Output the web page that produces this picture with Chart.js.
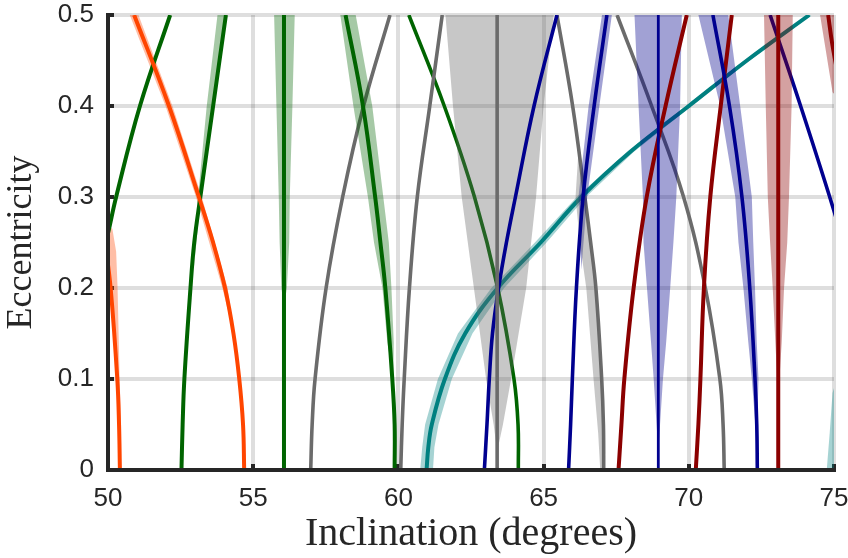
<!DOCTYPE html>
<html>
<head>
<meta charset="utf-8">
<script src="https://cdn.jsdelivr.net/npm/chart.js@4.4.1/dist/chart.umd.min.js"></script>
<style>
html, body { margin: 0; padding: 0; background: #fff; }
#wrap { width: 848px; height: 558px; position: relative; }
</style>
</head>
<body>
<div id="wrap"><canvas id="chart"></canvas></div>
<script>
const xTicks = [50, 55, 60, 65, 70, 75];
const yTicks = [0, 0.1, 0.2, 0.3, 0.4, 0.5];
const yTickLabels = ['0', '0.1', '0.2', '0.3', '0.4', '0.5'];

// curves as [inclination (deg), eccentricity]
const orangeA = [[50.41, 0], [50.38, 0.05], [50.32, 0.1], [50.09, 0.2], [49.9, 0.25]];
const orangeABand = [[50.41, 0], [50.47, 0], [50.45, 0.05], [50.4, 0.1], [50.33, 0.2], [50.28, 0.24], [50.15, 0.265], [49.9, 0.27], [49.9, 0.25], [50.09, 0.2], [50.32, 0.1], [50.38, 0.05]];
const orangeB = [[54.69, 0], [54.65, 0.05], [54.52, 0.1], [54.32, 0.15], [54.03, 0.2], [53.62, 0.25], [53.13, 0.3], [52.1, 0.4], [50.9, 0.5]];
const orangeBBand = [[54.32, 0.15], [53.94, 0.2], [53.03, 0.3], [51.98, 0.4], [50.75, 0.5], [51.05, 0.5], [52.22, 0.4], [53.23, 0.3], [54.12, 0.2]];

const greenA = [[52.53, 0], [52.57, 0.05], [52.63, 0.1], [52.84, 0.2], [52.97, 0.25], [53.18, 0.3], [53.62, 0.4], [54.06, 0.5]];
const greenABand = [[52.95, 0.22], [53.2, 0.3], [53.65, 0.4], [54.1, 0.5], [53.77, 0.5], [53.4, 0.4], [53.1, 0.3]];
const greenB = [[49.55, 0.2], [50, 0.26], [50.28, 0.3], [51.1, 0.4], [52.14, 0.5]];
const greenC = [[56.06, 0], [56.06, 0.5]];
const greenCBand = [[56.06, 0.18], [55.97, 0.2], [55.91, 0.25], [55.88, 0.3], [55.8, 0.4], [55.72, 0.5], [56.43, 0.5], [56.35, 0.4], [56.26, 0.3], [56.24, 0.25], [56.16, 0.2]];
const greenD = [[59.87, 0], [59.87, 0.05], [59.79, 0.1], [59.55, 0.2], [59.38, 0.25], [59.2, 0.3], [58.78, 0.4], [58.18, 0.5]];
const greenDBand = [[59.83, 0.1], [59.62, 0.14], [59.45, 0.2], [59.16, 0.25], [58.95, 0.3], [58.45, 0.4], [58.0, 0.5], [58.53, 0.5], [59.1, 0.4], [59.48, 0.3], [59.67, 0.25], [59.76, 0.2], [59.84, 0.14]];
const greenE = [[64.13, 0], [64.12, 0.05], [63.98, 0.1], [63.42, 0.2], [62.62, 0.3], [61.58, 0.4], [60.36, 0.5]];

const grayA = [[56.98, 0], [57.03, 0.05], [57.13, 0.1], [57.51, 0.2], [58.08, 0.3], [58.8, 0.4], [59.71, 0.5]];
const grayB = [[60.08, 0], [60.13, 0.05], [60.2, 0.1], [60.38, 0.2], [60.65, 0.3], [61.08, 0.4], [61.51, 0.5]];
const grayC = [[63.4, 0], [63.4, 0.5]];
const grayCBand = [[63.4, 0.02], [63.28, 0.05], [63.02, 0.1], [62.6, 0.2], [62.18, 0.3], [61.88, 0.4], [61.62, 0.5], [65.35, 0.5], [65.0, 0.4], [64.74, 0.3], [64.4, 0.2], [63.88, 0.1], [63.6, 0.05]];
const grayD = [[67.07, 0], [67.06, 0.05], [67.0, 0.1], [66.8, 0.2], [66.62, 0.25], [66.42, 0.3], [66.0, 0.4], [65.46, 0.5]];
const grayDBand = [[66.2, 0.35], [66.1, 0.3], [66.25, 0.25], [66.47, 0.2], [66.62, 0.14], [66.72, 0.1], [66.88, 0.04], [66.95, 0], [67.07, 0], [67.06, 0.05], [67.0, 0.1], [66.8, 0.2], [66.6, 0.25], [66.42, 0.3]];
const grayE = [[71.22, 0], [71.18, 0.05], [71.07, 0.1], [70.57, 0.2], [69.82, 0.3], [68.72, 0.4], [67.53, 0.5]];

const teal = [[60.97, 0], [61.03, 0.025], [61.15, 0.05], [61.6, 0.1], [62.3, 0.15], [63.42, 0.2], [64.9, 0.25], [66.3, 0.3], [68.0, 0.35], [70.0, 0.4], [72.0, 0.45], [74.15, 0.5]];
const tealBand = [[60.75, 0], [60.82, 0.025], [60.92, 0.05], [61.36, 0.1], [62.05, 0.15], [63.2, 0.2], [64.7, 0.25], [66.14, 0.3], [67.88, 0.35], [69.9, 0.4], [71.9, 0.45], [74.08, 0.5],
                  [74.22, 0.5], [72.1, 0.45], [70.1, 0.4], [68.12, 0.35], [66.46, 0.3], [65.1, 0.25], [63.64, 0.2], [62.55, 0.15], [61.84, 0.1], [61.38, 0.05], [61.24, 0.025], [61.19, 0]];
const tealEdgeBand = [[74.75, 0], [75.1, 0], [75.1, 0.1], [74.95, 0.085], [74.85, 0.04]];

const blueA = [[62.96, 0], [63.05, 0.05], [63.13, 0.1], [63.24, 0.15], [63.45, 0.2], [63.72, 0.25], [64.03, 0.3], [64.67, 0.4], [65.46, 0.5]];
const blueB = [[65.86, 0], [65.93, 0.05], [65.99, 0.1], [66.13, 0.2], [66.36, 0.3], [66.74, 0.4], [67.18, 0.5]];
const blueBBand = [[66.3, 0.22], [66.2, 0.3], [66.55, 0.4], [67.01, 0.5], [67.35, 0.5], [66.92, 0.4], [66.5, 0.3]];
const blueC = [[68.95, 0], [68.95, 0.5]];
const blueCBand = [[68.95, 0.02], [68.79, 0.1], [68.7, 0.14], [68.56, 0.2], [68.44, 0.25], [68.42, 0.3], [68.27, 0.4], [68.13, 0.5], [69.76, 0.5], [69.7, 0.4], [69.57, 0.3], [69.47, 0.25], [69.36, 0.2], [69.22, 0.14], [69.11, 0.1]];
const blueD = [[72.36, 0], [72.34, 0.05], [72.28, 0.1], [72.1, 0.2], [71.83, 0.3], [71.4, 0.4], [70.83, 0.5]];
const blueDBand = [[72.34, 0.03], [72.17, 0.1], [72.05, 0.14], [71.88, 0.2], [71.71, 0.25], [71.6, 0.3], [71.08, 0.4], [70.33, 0.5], [71.36, 0.5], [71.77, 0.4], [72.17, 0.3], [72.22, 0.25], [72.28, 0.2], [72.34, 0.14], [72.4, 0.1]];
const blueE = [[75.4, 0.24], [74.95, 0.29], [73.85, 0.4], [72.8, 0.5]];

const redA = [[67.58, 0], [67.68, 0.05], [67.78, 0.1], [68.1, 0.2], [68.55, 0.3], [69.2, 0.4], [69.93, 0.5]];
const redB = [[70.24, 0], [70.33, 0.05], [70.4, 0.1], [70.52, 0.2], [70.74, 0.3], [71.1, 0.4], [71.48, 0.5]];
const redC = [[73.08, 0], [73.08, 0.5]];
const redCBand = [[73.08, 0.08], [72.98, 0.14], [72.89, 0.2], [72.8, 0.25], [72.72, 0.3], [72.65, 0.4], [72.59, 0.5], [73.58, 0.5], [73.54, 0.4], [73.45, 0.3], [73.39, 0.25], [73.28, 0.2], [73.2, 0.14]];
const redD = [[75.1, 0.44], [74.93, 0.47], [74.8, 0.5]];
const redDBand = [[74.52, 0.5], [75.1, 0.5], [75.1, 0.41], [74.95, 0.415]];

const ORANGE = '#ff4500', GREEN = '#006400', GRAY = '#6b6b6b', TEAL = '#008080', BLUE = '#00008f', RED = '#8b0000';

function toPoints(arr) {
    return arr.map(p => ({ x: p[0], y: p[1] }));
}

// higher order = drawn first (underneath)
function curve(arr, color, order, width) {
    return { data: toPoints(arr), borderColor: color, borderWidth: width || 3.6, pointRadius: 0, pointHitRadius: 0,
             tension: 0.4, fill: false, order: order, clip: 0 };
}

function band(arr, color, order) {
    return { data: toPoints(arr), borderColor: 'rgba(0,0,0,0)', borderWidth: 0, backgroundColor: color, pointRadius: 0, pointHitRadius: 0,
             tension: 0, fill: 'shape', order: order, clip: 0 };
}

const datasets = [
    band(tealBand, 'rgba(0,128,128,0.35)', 7),
    band(tealEdgeBand, 'rgba(0,128,128,0.35)', 7),
    curve(teal, TEAL, 6, 4),
    curve(grayA, GRAY, 6),
    curve(grayB, GRAY, 6),
    curve(grayD, GRAY, 6),
    curve(grayE, GRAY, 6),
    curve(greenE, GREEN, 6),
    curve(blueE, BLUE, 6),
    band(grayCBand, 'rgba(100,100,100,0.36)', 3),
    band(grayDBand, 'rgba(100,100,100,0.36)', 3),
    band(orangeABand, 'rgba(255,69,0,0.35)', 3),
    band(orangeBBand, 'rgba(255,69,0,0.35)', 3),
    band(greenABand, 'rgba(0,100,0,0.35)', 3),
    band(greenCBand, 'rgba(0,100,0,0.35)', 3),
    band(greenDBand, 'rgba(0,100,0,0.35)', 3),
    band(blueBBand, 'rgba(0,0,139,0.37)', 3),
    band(blueCBand, 'rgba(0,0,139,0.37)', 3),
    band(blueDBand, 'rgba(0,0,139,0.37)', 3),
    band(redCBand, 'rgba(139,0,0,0.37)', 3),
    band(redDBand, 'rgba(139,0,0,0.37)', 3),
    curve(orangeA, ORANGE, 1, 4),
    curve(orangeB, ORANGE, 1, 4),
    curve(greenA, GREEN, 1, 4),
    curve(greenB, GREEN, 1, 4),
    curve(greenC, GREEN, 1, 4),
    curve(greenD, GREEN, 1, 4),
    curve(grayC, GRAY, 1),
    curve(blueA, BLUE, 1),
    curve(blueB, BLUE, 1),
    curve(blueC, BLUE, 1, 2.8),
    curve(blueD, BLUE, 1),
    curve(redA, RED, 1, 4),
    curve(redB, RED, 1, 4),
    curve(redC, RED, 1, 4),
    curve(redD, RED, 1, 4)
];

const axisColor = '#262626';
const gridOpts = { color: 'rgba(0,0,0,0.13)', lineWidth: 4, tickLength: -6, tickWidth: 4, tickColor: axisColor };

new Chart(document.getElementById('chart'), {
    type: 'line',
    data: { datasets: datasets },
    options: {
        indexAxis: 'y',
        responsive: true,
        maintainAspectRatio: false,
        animation: false,
        layout: { padding: { top: 15, right: 14, left: 0, bottom: 0 } },
        plugins: { legend: { display: false }, tooltip: { enabled: false } },
        scales: {
            x: {
                type: 'linear', position: 'bottom', min: 50, max: 75,
                afterBuildTicks: s => { s.ticks = xTicks.map(v => ({ value: v })); },
                afterFit: s => { s.height = 88; s.paddingLeft = 0; s.paddingRight = 0; },
                grid: gridOpts,
                border: { color: axisColor, width: 4, z: 1 },
                ticks: { color: axisColor, autoSkip: false, maxRotation: 0, padding: 19,
                         font: { family: 'Liberation Sans', size: 26 },
                         callback: (v, i) => String(xTicks[i]) },
                title: { display: true, text: 'Inclination (degrees)', color: axisColor, padding: 0,
                         font: { family: 'Liberation Serif', size: 40 } }
            },
            y: {
                type: 'linear', position: 'left', min: 0, max: 0.5,
                afterBuildTicks: s => { s.ticks = yTicks.map(v => ({ value: v })); },
                afterFit: s => { s.width = 108; s.paddingTop = 0; s.paddingBottom = 0; },
                grid: gridOpts,
                border: { color: axisColor, width: 4, z: 1 },
                ticks: { color: axisColor, autoSkip: false, padding: 20,
                         font: { family: 'Liberation Sans', size: 26 },
                         callback: (v, i) => yTickLabels[i] },
                title: { display: true, text: 'Eccentricity', color: axisColor, padding: 0,
                         font: { family: 'Liberation Serif', size: 36 } }
            }
        }
    }
});
</script>
</body>
</html>
